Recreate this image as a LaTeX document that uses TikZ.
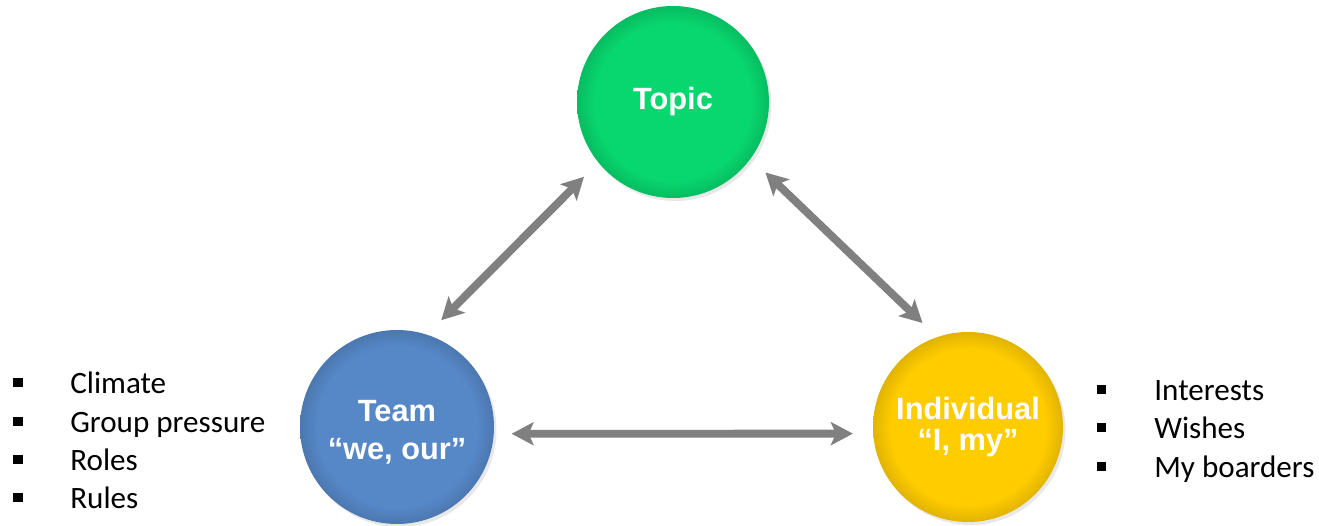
\documentclass[tikz,border=0pt]{standalone}
\usepackage{fontspec}
\setmainfont{Carlito}
\newfontfamily\circfont{Liberation Sans}
\usetikzlibrary{arrows.meta, shadows}

\definecolor{topicgreen}{RGB}{8,214,110}
\definecolor{teamblue}{RGB}{86,136,200}
\definecolor{indivyellow}{RGB}{255,204,0}
\definecolor{linkgray}{RGB}{128,128,128}

% darker rim near the edge of each circle
\newcommand{\rimshade}[1]{\pgfdeclareradialshading{rim#1}{\pgfpointorigin}{color(0bp)=(#1); color(20.5bp)=(#1); color(25bp)=(#1!88!black); color(50bp)=(#1!88!black)}}
\rimshade{topicgreen}
\rimshade{teamblue}
\rimshade{indivyellow}

\begin{document}
\begin{tikzpicture}[
  bubble/.style={circle, inner sep=0pt, text=white, align=center,
    font=\circfont\bfseries\fontsize{17.5}{22}\selectfont,
    drop shadow={shadow xshift=0.05cm, shadow yshift=-0.06cm, opacity=0.18}},
  link/.style={{Stealth[length=0.44cm,width=0.46cm,inset=0.1cm]}-{Stealth[length=0.44cm,width=0.46cm,inset=0.1cm]},
    line width=4.5pt, linkgray},
  sqbullet/.style={rectangle, fill=black, inner sep=0pt, minimum width=0.19cm, minimum height=0.17cm},
  item/.style={anchor=base west, inner sep=0pt, font=\fontsize{17.7}{21}\selectfont}
]
\useasboundingbox (0,0) rectangle (26.38,10.5);

% the three circles
\node[bubble, minimum size=3.84cm, shading=rimtopicgreen] (topic) at (13.46,8.46) {Topic};
\node[bubble, minimum size=3.88cm, shading=rimteamblue] (team) at (7.94,1.96) {\rule{0pt}{18pt}Team\\“we, our”};
\node[bubble, minimum size=3.80cm, shading=rimindivyellow,
  font=\circfont\bfseries\fontsize{17.5}{17.6}\selectfont] (indiv) at (19.36,1.96) {Individual\\“I, my”};

% double arrows
\draw[link, shorten <=0.4cm, shorten >=0.4cm] (team.72) -- (topic.219);
\draw[link, shorten <=0.4cm, shorten >=0.4cm] (topic.-36) -- (indiv.109);
\draw[link, shorten <=0.35cm, shorten >=0.4cm] (team.-4) -- (indiv.184);

% team list
\node[sqbullet] (tb1) at (0.36,2.85) {};
\node[sqbullet] (tb2) at (0.36,2.07) {};
\node[sqbullet] (tb3) at (0.36,1.31) {};
\node[sqbullet] (tb4) at (0.36,0.55) {};
\node[item] (climate) at (1.40,2.64) {Climate};
\node[item] (pressure) at (1.40,1.86) {Group pressure};
\node[item] (roles) at (1.40,1.10) {Roles};
\node[item] (rules) at (1.40,0.34) {Rules};

% individual list
\node[sqbullet] (ib1) at (22.03,2.71) {};
\node[sqbullet] (ib2) at (22.03,1.95) {};
\node[sqbullet] (ib3) at (22.03,1.17) {};
\node[item] (interests) at (23.08,2.50) {Interests};
\node[item] (wishes) at (23.08,1.74) {Wishes};
\node[item] (borders) at (23.08,0.96) {My boarders};
\end{tikzpicture}
\end{document}
